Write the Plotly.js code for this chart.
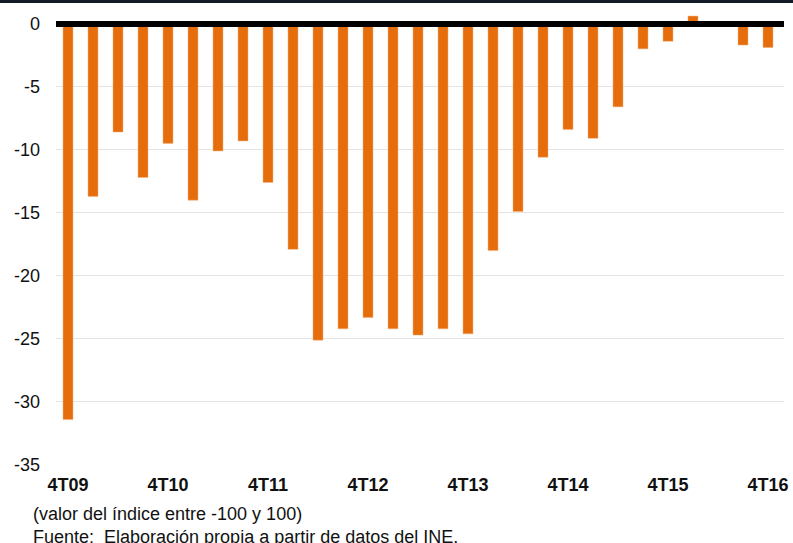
<!DOCTYPE html>
<html>
<head>
<meta charset="utf-8">
<script src="https://cdn.plot.ly/plotly-3.0.1.min.js"></script>
<style>
  body { margin: 0; background: #fff; }
  #topband { position: absolute; left: 0; top: 0; width: 793px; height: 3px; background: #141a26; z-index: 5; }
  #chart { position: absolute; left: 0; top: 0; width: 793px; height: 543px; }
</style>
</head>
<body>
<div id="topband"></div>
<div id="chart"></div>
<script>
var quarters = [
  '4T09',
  '1T10', '2T10', '3T10', '4T10',
  '1T11', '2T11', '3T11', '4T11',
  '1T12', '2T12', '3T12', '4T12',
  '1T13', '2T13', '3T13', '4T13',
  '1T14', '2T14', '3T14', '4T14',
  '1T15', '2T15', '3T15', '4T15',
  '1T16', '2T16', '3T16', '4T16'
];

var indice = [
  -31.4,
  -13.7, -8.6, -12.2, -9.5,
  -14.0, -10.1, -9.3, -12.6,
  -17.9, -25.1, -24.2, -23.3,
  -24.2, -24.7, -24.2, -24.6,
  -18.0, -14.9, -10.6, -8.4,
  -9.1, -6.6, -2.0, -1.4,
  0.6, null, -1.7, -1.9
];

var tickQuarters = ['4T09', '4T10', '4T11', '4T12', '4T13', '4T14', '4T15', '4T16'];
var yTicks = [0, -5, -10, -15, -20, -25, -30, -35];
var yTickText = ['0', '-5', '-10', '-15', '-20', '-25', '-30', '-35'];

var trace = {
  x: quarters,
  y: indice,
  type: 'bar',
  marker: { color: '#e56d0c', line: { color: '#f3b27e', width: 0.5 } },
  hoverinfo: 'x+y'
};

var layout = {
  width: 793,
  height: 543,
  margin: { l: 56, r: 9, t: 11, b: 78 },
  paper_bgcolor: '#fff',
  plot_bgcolor: '#fff',
  showlegend: false,
  bargap: 0.6,
  font: { family: '"Liberation Sans", Arial, sans-serif', size: 18, color: '#111' },
  xaxis: {
    type: 'category',
    range: [-0.48, 28.64],
    tickvals: tickQuarters,
    ticktext: tickQuarters.map(function (t) { return '<b>' + t + '</b>'; }),
    showgrid: false,
    showline: false,
    ticks: '',
    ticklabelstandoff: 7,
    tickangle: 0,
    fixedrange: true
  },
  yaxis: {
    range: [-35, 1],
    tickvals: yTicks,
    ticktext: yTickText,
    showgrid: true,
    gridcolor: '#e4e4e4',
    gridwidth: 1,
    zeroline: true,
    zerolinecolor: '#000',
    zerolinewidth: 6,
    zerolinelayer: 'above traces',
    showline: false,
    ticks: '',
    ticklabelstandoff: 15,
    fixedrange: true
  },
  annotations: [
    {
      text: '(valor del índice entre -100 y 100)',
      xref: 'paper', yref: 'paper',
      x: -0.034, y: -0.107,
      xanchor: 'left', yanchor: 'middle',
      showarrow: false,
      font: { size: 18, color: '#111' }
    },
    {
      text: 'Fuente:  Elaboración propia a partir de datos del INE.',
      xref: 'paper', yref: 'paper',
      x: -0.034, y: -0.158,
      xanchor: 'left', yanchor: 'middle',
      showarrow: false,
      font: { size: 18, color: '#111' }
    }
  ]
};

Plotly.newPlot('chart', [trace], layout, { displayModeBar: false, staticPlot: true });
</script>
</body>
</html>
